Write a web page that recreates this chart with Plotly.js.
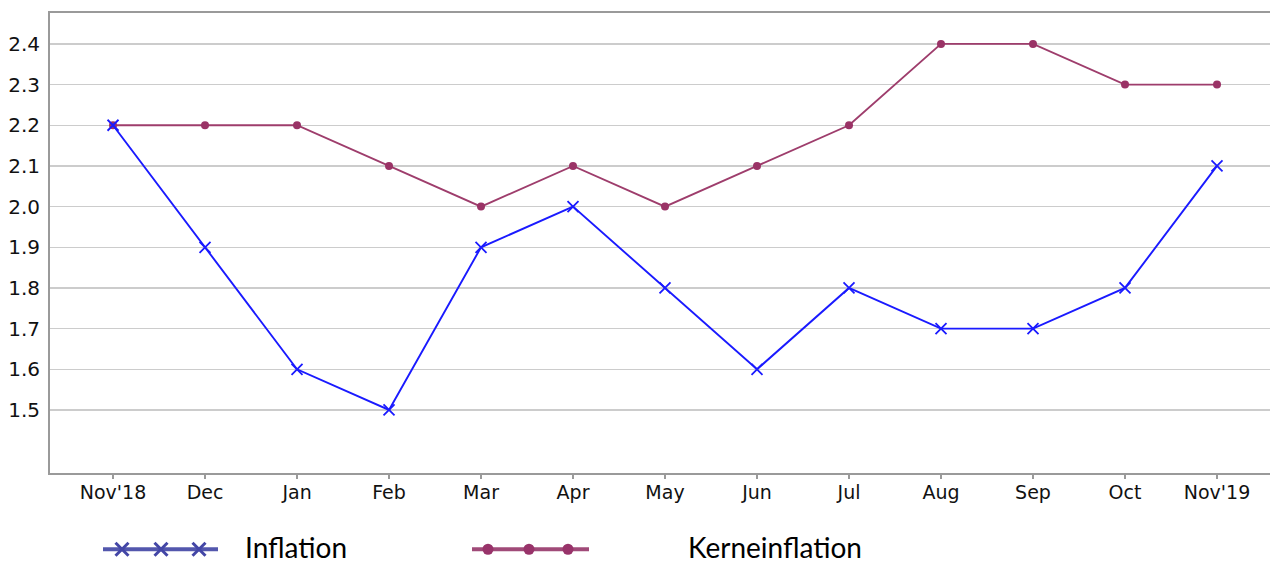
<!DOCTYPE html>
<html>
<head>
<meta charset="utf-8">
<script src="https://cdn.plot.ly/plotly-3.0.1.min.js"></script>
<style>html,body{margin:0;padding:0;background:#fff;}#chart{width:1270px;height:563px;}</style>
</head>
<body>
<div id="chart"></div>
<script>
const months = ["Nov'18","Dec","Jan","Feb","Mar","Apr","May","Jun","Jul","Aug","Sep","Oct","Nov'19"];
const inflation = [2.2,1.9,1.6,1.5,1.9,2.0,1.8,1.6,1.8,1.7,1.7,1.8,2.1];
const kerninflation = [2.2,2.2,2.2,2.1,2.0,2.1,2.0,2.1,2.2,2.4,2.4,2.3,2.3];
const yTicks = [1.5,1.6,1.7,1.8,1.9,2.0,2.1,2.2,2.3,2.4];
const seriesNames = ["Inflation","Kerneinflation"];

const idx = months.map((_, i) => i);
const traces = [
  {x: idx, y: kerninflation, type: 'scatter', mode: 'lines+markers', name: seriesNames[1],
   line: {color: '#9e3d6c', width: 1.9}, marker: {symbol: 'circle', size: 8, color: '#9a3366'}, cliponaxis: false},
  {x: idx, y: inflation, type: 'scatter', mode: 'lines+markers', name: seriesNames[0],
   line: {color: '#1a1aff', width: 1.9}, marker: {symbol: 'x-thin-open', size: 11, color: '#1a1aff', line: {width: 1.8, color: '#1a1aff'}}, cliponaxis: false},
  // legend symbols
  {x: [103, 218], y: [0, 0], xaxis: 'x2', yaxis: 'y2', mode: 'lines', line: {color: '#5357ad', width: 4}, hoverinfo: 'skip', cliponaxis: false},
  {x: [122, 161, 199], y: [0, 0, 0], xaxis: 'x2', yaxis: 'y2', mode: 'markers',
   marker: {symbol: 'x-thin-open', size: 13, color: '#4346a6', line: {width: 3, color: '#4346a6'}}, hoverinfo: 'skip', cliponaxis: false},
  {x: [472, 589], y: [0, 0], xaxis: 'x2', yaxis: 'y2', mode: 'lines', line: {color: '#a04a78', width: 4}, hoverinfo: 'skip', cliponaxis: false},
  {x: [488, 529, 568], y: [0, 0, 0], xaxis: 'x2', yaxis: 'y2', mode: 'markers',
   marker: {symbol: 'circle', size: 11, color: '#98336a'}, hoverinfo: 'skip', cliponaxis: false}
];

const layout = {
  width: 1270, height: 563,
  margin: {l: 0, r: 0, t: 13, b: 0},
  paper_bgcolor: '#fff', plot_bgcolor: '#fff',
  showlegend: false,
  font: {family: 'DejaVu Sans', size: 19, color: '#111'},
  xaxis: {
    domain: [50/1270, 1],
    range: [-0.685, 12.576],
    tickmode: 'array', tickvals: idx, ticktext: months,
    showgrid: false, zeroline: false,
    showline: true, linecolor: '#9a9a9a', linewidth: 2, mirror: true,
    ticks: 'outside', ticklen: 4, tickcolor: '#9a9a9a', tickwidth: 1.5,
    ticklabelstandoff: -3,
    tickfont: {family: 'DejaVu Sans', size: 19, color: '#111'},
    fixedrange: true
  },
  yaxis: {
    domain: [90/550, 1],
    range: [1.345, 2.476],
    tickmode: 'array', tickvals: yTicks, ticktext: yTicks.map(v => v.toFixed(1)),
    showgrid: true, gridcolor: '#cccccc', gridwidth: 1.5,
    zeroline: false, showline: true, linecolor: '#9a9a9a', linewidth: 2,
    ticks: '', ticklabelstandoff: 4,
    tickfont: {family: 'DejaVu Sans', size: 20, color: '#111'},
    fixedrange: true
  },
  xaxis2: {domain: [0, 1], range: [0, 1270], visible: false, anchor: 'y2', fixedrange: true},
  yaxis2: {domain: [0, 0.05], range: [-1, 1], visible: false, anchor: 'x2', fixedrange: true},
  annotations: [
    {xref: 'x2', yref: 'y2', x: 243, y: 0.2, text: seriesNames[0], showarrow: false, xanchor: 'left', yanchor: 'middle',
     font: {family: 'Lato', size: 28, color: '#000'}},
    {xref: 'x2', yref: 'y2', x: 686, y: 0.2, text: seriesNames[1], showarrow: false, xanchor: 'left', yanchor: 'middle',
     font: {family: 'Lato', size: 28, color: '#000'}}
  ]
};

Plotly.newPlot('chart', traces, layout, {displayModeBar: false, staticPlot: true});
</script>
</body>
</html>
